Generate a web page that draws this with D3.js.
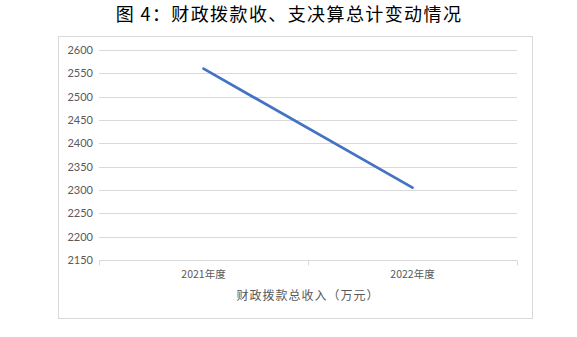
<!DOCTYPE html>
<html>
<head>
<meta charset="utf-8">
<script src="https://cdn.jsdelivr.net/npm/d3@7"></script>
<style>
  body { margin: 0; background: #fff; }
  svg { display: block; }
</style>
</head>
<body>
<svg id="chart"></svg>
<script>
const title = '图 4：财政拨款收、支决算总计变动情况'
const axisTitle = '财政拨款总收入（万元）'
const categories = ['2021年度', '2022年度']
const values = [2560, 2305]
const yTicks = [2150, 2200, 2250, 2300, 2350, 2400, 2450, 2500, 2550, 2600]

const width = 577
const height = 337
const plot = { left: 99, right: 517, top: 50, bottom: 260 }

const svg = d3.select('#chart')
  .attr('width', width)
  .attr('height', height)

svg.append('text')
  .attr('x', 289)
  .attr('y', 21)
  .attr('text-anchor', 'middle')
  .attr('font-family', '"Noto Sans CJK SC", sans-serif')
  .attr('font-size', 18)
  .attr('letter-spacing', 1.4)
  .attr('fill', '#000')
  .text(title)

// chart frame
svg.append('rect')
  .attr('x', 58.5).attr('y', 36.5)
  .attr('width', 474).attr('height', 282)
  .attr('fill', 'none')
  .attr('stroke', '#d9d9d9')

const x = d3.scaleBand()
  .domain(categories)
  .range([plot.left, plot.right])

const y = d3.scaleLinear()
  .domain([2150, 2600])
  .range([plot.bottom, plot.top])

// gridlines
svg.append('g')
  .selectAll('line')
  .data(yTicks.slice(1))
  .enter().append('line')
    .attr('x1', plot.left).attr('x2', plot.right)
    .attr('y1', (d) => Math.round(y(d)) + 0.5)
    .attr('y2', (d) => Math.round(y(d)) + 0.5)
    .attr('stroke', '#d9d9d9')

// y labels
svg.append('g')
  .selectAll('text')
  .data(yTicks)
  .enter().append('text')
    .attr('x', 93)
    .attr('y', (d) => y(d) + 4)
    .attr('text-anchor', 'end')
    .attr('font-family', 'Lato, "Noto Sans", sans-serif')
    .attr('font-size', 11)
    .attr('fill', '#595959')
    .text((d) => d)

// x axis
const xAxis = svg.append('g')
  .attr('transform', `translate(0,${Math.round(plot.bottom) + 0.5})`)
  .call(d3.axisBottom(x).tickSize(0).tickFormat(''))
xAxis.select('.domain').remove()
xAxis.append('line')
  .attr('x1', plot.left).attr('x2', plot.right)
  .attr('stroke', '#d9d9d9')
const bounds = [plot.left, plot.left + x.step(), plot.right]
xAxis.selectAll('.bound')
  .data(bounds)
  .enter().append('line')
    .attr('class', 'bound')
    .attr('x1', (d) => Math.round(d) + 0.5).attr('x2', (d) => Math.round(d) + 0.5)
    .attr('y1', 0).attr('y2', 5)
    .attr('stroke', '#d9d9d9')

svg.append('g')
  .selectAll('text')
  .data(categories)
  .enter().append('text')
    .attr('x', (d) => x(d) + x.bandwidth() / 2)
    .attr('y', 278)
    .attr('text-anchor', 'middle')
    .attr('font-family', '"Noto Sans CJK SC", sans-serif')
    .attr('font-size', 10.5)
    .attr('fill', '#595959')
    .text((d) => d)

svg.append('text')
  .attr('x', 308)
  .attr('y', 300)
  .attr('text-anchor', 'middle')
  .attr('font-family', '"Noto Sans CJK SC", sans-serif')
  .attr('font-size', 12)
  .attr('letter-spacing', 1)
  .attr('fill', '#595959')
  .text(axisTitle)

const line = d3.line()
  .x((d, i) => x(categories[i]) + x.bandwidth() / 2)
  .y((d) => y(d))

svg.append('path')
  .datum(values)
  .attr('d', line)
  .attr('fill', 'none')
  .attr('stroke', '#4472c4')
  .attr('stroke-width', 2.75)
  .attr('stroke-linecap', 'round')
</script>
</body>
</html>
